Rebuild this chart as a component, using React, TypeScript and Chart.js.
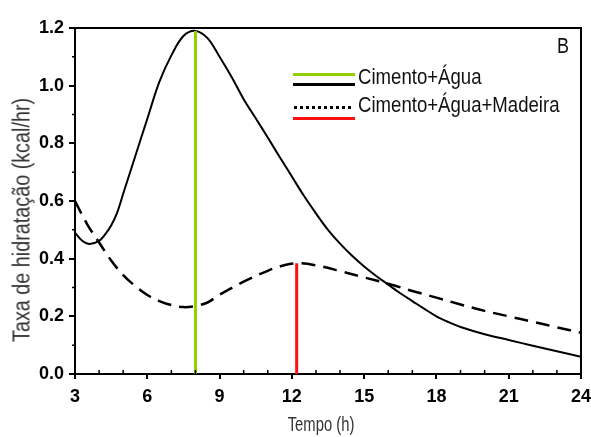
import React, { useEffect, useRef } from "react";
import { Chart, registerables } from "chart.js";

Chart.register(...registerables);

// Tempo (h) and Taxa de hidratação (kcal/hr)
const cementHours = [3, 3.3, 3.6, 4, 4.25, 4.5, 4.75, 5, 5.5, 6, 6.5, 7, 7.5, 8, 8.5, 9, 9.5, 10, 10.5, 11, 11.5, 12, 12.5, 13, 13.5, 14, 14.5, 15, 15.5, 16, 16.5, 17, 17.5, 18, 18.5, 19, 20, 21, 22, 23, 24];
const cementRate = [0.49, 0.462, 0.451, 0.462, 0.484, 0.515, 0.56, 0.625, 0.755, 0.885, 1.013, 1.105, 1.172, 1.19, 1.165, 1.1, 1.03, 0.953, 0.887, 0.82, 0.752, 0.685, 0.618, 0.557, 0.5, 0.452, 0.41, 0.373, 0.34, 0.31, 0.28, 0.253, 0.226, 0.2, 0.18, 0.163, 0.138, 0.118, 0.098, 0.079, 0.06];

const woodHours = [3, 3.5, 4, 4.5, 5, 5.5, 6, 6.5, 7, 7.5, 8, 8.5, 9, 10, 11, 11.5, 12.2, 13, 14, 15, 16, 17, 18, 19, 20, 21, 22, 23, 24];
const woodRate = [0.6, 0.52, 0.456, 0.394, 0.343, 0.305, 0.274, 0.253, 0.239, 0.232, 0.236, 0.248, 0.275, 0.32, 0.358, 0.373, 0.384, 0.377, 0.357, 0.335, 0.313, 0.288, 0.265, 0.241, 0.219, 0.2, 0.181, 0.162, 0.143];

const cementPeakHours = [8, 8];
const cementPeakRate = [0, 1.19];
const woodPeakHours = [12.2, 12.2];
const woodPeakRate = [0, 0.384];

const xTickValues = [3, 6, 9, 12, 15, 18, 21, 24];
const yTickValues = [0, 0.2, 0.4, 0.6, 0.8, 1.0, 1.2];
const xMinorTicks = [4, 5, 7, 8, 10, 11, 13, 14, 16, 17, 19, 20, 22, 23];
const yMinorTicks = [0.1, 0.3, 0.5, 0.7, 0.9, 1.1];

const legendLabels = ["Cimento+Água", "Cimento+Água+Madeira"];
const panelLabel = "B";
const xTitle = "Tempo (h)";
const yTitle = "Taxa de hidratação (kcal/hr)";

const GREEN = "#92d000";
const RED = "#ff1010";
const SANS = '"Liberation Sans", Arial, sans-serif';

const toPoints = (xs: number[], ys: number[]) => xs.map((x, i) => ({ x, y: ys[i] }));

const framePlugin = {
  id: "frame",
  afterDraw(chart: any) {
    const { ctx, chartArea: a, scales } = chart;
    const x = scales.x;
    const y = scales.y;
    ctx.save();
    ctx.strokeStyle = "#000";
    ctx.lineWidth = 2;
    ctx.beginPath();
    ctx.moveTo(a.left - 1, a.top);
    ctx.lineTo(a.right, a.top);
    ctx.lineTo(a.right, a.bottom + 1);
    ctx.stroke();
    ctx.lineWidth = 1.5;
    ctx.beginPath();
    for (const h of xMinorTicks) {
      const px = x.getPixelForValue(h);
      ctx.moveTo(px, a.bottom);
      ctx.lineTo(px, a.bottom - 4);
    }
    for (const v of yMinorTicks) {
      const py = y.getPixelForValue(v);
      ctx.moveTo(a.left, py);
      ctx.lineTo(a.left - 3, py);
    }
    ctx.stroke();
    ctx.restore();
  },
};

export default function App() {
  const ref = useRef<HTMLCanvasElement>(null);

  useEffect(() => {
    const chart = new Chart(ref.current as HTMLCanvasElement, {
      type: "line",
      data: {
        datasets: [
          {
            label: "peak1",
            data: toPoints(cementPeakHours, cementPeakRate),
            borderColor: GREEN,
            borderWidth: 3,
            pointRadius: 0,
            tension: 0,
          },
          {
            label: "peak2",
            data: toPoints(woodPeakHours, woodPeakRate),
            borderColor: RED,
            borderWidth: 3,
            pointRadius: 0,
            tension: 0,
          },
          {
            label: legendLabels[0],
            data: toPoints(cementHours, cementRate),
            borderColor: "#000",
            borderWidth: 2,
            pointRadius: 0,
            tension: 0.35,
          },
          {
            label: legendLabels[1],
            data: toPoints(woodHours, woodRate),
            borderColor: "#000",
            borderWidth: 2.5,
            borderDash: [14, 8],
            pointRadius: 0,
            tension: 0.35,
          },
        ],
      },
      options: {
        animation: false,
        responsive: false,
        layout: { padding: { top: 28, right: 0, left: 0, bottom: 0 } },
        plugins: { legend: { display: false }, tooltip: { enabled: false } },
        scales: {
          x: {
            type: "linear",
            min: 3,
            max: 24,
            afterBuildTicks: (s: any) => {
              s.ticks = xTickValues.map((v) => ({ value: v }));
            },
            afterFit: (s: any) => {
              s.height = 63;
              s.paddingRight = 10;
            },
            grid: { display: true, drawOnChartArea: false, tickLength: 5, color: "#000", lineWidth: 2 },
            border: { display: true, color: "#000", width: 2 },
            ticks: {
              color: "#000",
              font: { family: SANS, size: 18, weight: "bold" },
              padding: 7,
              maxRotation: 0,
              autoSkip: false,
              callback: (v: any) => String(v),
            },
          },
          y: {
            type: "linear",
            min: 0,
            max: 1.2,
            afterBuildTicks: (s: any) => {
              s.ticks = yTickValues.map((v) => ({ value: v }));
            },
            afterFit: (s: any) => {
              s.width = 75;
            },
            grid: { display: true, drawOnChartArea: false, tickLength: 6, color: "#000", lineWidth: 2 },
            border: { display: true, color: "#000", width: 2 },
            ticks: {
              color: "#000",
              font: { family: SANS, size: 18, weight: "bold" },
              padding: 5,
              autoSkip: false,
              callback: (v: any) => Number(v).toFixed(1),
            },
          },
        },
      },
      plugins: [framePlugin],
    } as any);
    return () => chart.destroy();
  }, []);

  const textBase: React.CSSProperties = {
    position: "absolute",
    fontFamily: SANS,
    color: "#111",
    whiteSpace: "nowrap",
    lineHeight: 1,
  };

  return (
    <div style={{ position: "fixed", left: 0, top: 0, width: 591, height: 437, background: "#fff", overflow: "hidden" }}>
      <canvas ref={ref} width={591} height={437} style={{ display: "block" }} />
      <div
        style={{
          ...textBase,
          fontSize: 23,
          left: 22,
          top: 220,
          transform: "translate(-50%, -50%) rotate(-90deg) scaleX(0.86)",
          color: "#333",
        }}
      >
        {yTitle}
      </div>
      <div
        style={{
          ...textBase,
          fontSize: 20,
          left: 321,
          top: 424,
          transform: "translate(-50%, -50%) scaleX(0.74)",
          color: "#333",
        }}
      >
        {xTitle}
      </div>
      <div style={{ ...textBase, fontSize: 22, left: 557, top: 35, transform: "scaleX(0.82)", transformOrigin: "left top" }}>
        {panelLabel}
      </div>
      <div style={{ position: "absolute", left: 293, top: 73, width: 62, height: 3, background: GREEN }} />
      <div style={{ position: "absolute", left: 293, top: 83, width: 62, height: 3, background: "#000" }} />
      <div
        style={{
          position: "absolute",
          left: 294,
          top: 106,
          width: 60,
          height: 3,
          backgroundImage: "repeating-linear-gradient(to right, #000 0 3px, transparent 3px 6px)",
        }}
      />
      <div style={{ position: "absolute", left: 293, top: 117, width: 62, height: 3, background: RED }} />
      <div style={{ ...textBase, fontSize: 22, left: 358, top: 66, transform: "scaleX(0.845)", transformOrigin: "left top" }}>
        {legendLabels[0]}
      </div>
      <div style={{ ...textBase, fontSize: 22, left: 358, top: 94, transform: "scaleX(0.845)", transformOrigin: "left top" }}>
        {legendLabels[1]}
      </div>
    </div>
  );
}
